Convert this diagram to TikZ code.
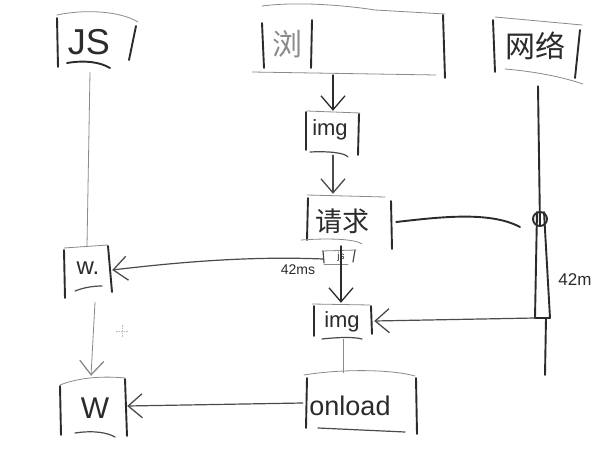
\documentclass[tikz,border=0pt]{standalone}
\usepackage{fontspec}
\setmainfont{Liberation Sans}
\newfontfamily\cjk{Noto Sans CJK SC}
\usetikzlibrary{arrows.meta}
\definecolor{ink}{HTML}{2B2B2B}
\definecolor{pale}{HTML}{8A8A8A}
\tikzset{
  heavy/.style={draw=ink, line width=1.9pt, line cap=round},
  medium/.style={draw=ink!85, line width=1.2pt, line cap=round},
  light/.style={draw=pale, line width=0.8pt, line cap=round},
  lbl/.style={text=ink, inner sep=0pt},
  area/.style={draw=none, inner sep=0pt},
  barb/.style={-{Straight Barb[length=14pt,width=24pt,line width=1.3pt]}},
}
\begin{document}
\begin{tikzpicture}[x=1pt,y=-1pt]
\useasboundingbox (0,0) rectangle (600,455);
\fill[white] (0,0) rectangle (600,455);

% ---- areas (invisible named boxes) ----
\node[area, minimum width=80pt, minimum height=52pt] (jsbox) at (96,41) {};
\node[area, minimum width=190pt, minimum height=70pt] (browbox) at (350,40) {};
\node[area, minimum width=94pt, minimum height=64pt] (netbox) at (537,48) {};
\node[area, minimum width=54pt, minimum height=44pt] (img1) at (333,133) {};
\node[area, minimum width=86pt, minimum height=52pt] (req) at (349,220) {};
\node[area, minimum width=32pt, minimum height=12pt] (jss) at (339,257) {};
\node[area, minimum width=62pt, minimum height=36pt] (img2) at (343,321) {};
\node[area, minimum width=114pt, minimum height=60pt] (onload) at (360,403) {};
\node[area, minimum width=50pt, minimum height=48pt] (wa) at (87,270) {};
\node[area, minimum width=68pt, minimum height=60pt] (wb) at (93,406) {};
\coordinate (knot) at (540,219);
\coordinate (tip) at (543,318);

% ---- texts ----
\node[lbl, font=\fontsize{36}{36}\selectfont] (tjs) at (89,42) {JS};
\node[lbl, font=\cjk\fontsize{30}{30}\selectfont, text=pale] (tbrow) at (287,44) {浏};
\node[lbl, font=\cjk\fontsize{30}{30}\selectfont] (tnet) at (535,46) {网络};
\node[lbl, font=\fontsize{22}{22}\selectfont] (timg1) at (330,130) {img};
\node[lbl, font=\cjk\fontsize{27}{27}\selectfont] (treq) at (342,221) {请求};
\node[lbl, font=\fontsize{10}{10}\selectfont] (tjss) at (341,257) {js};
\node[lbl, font=\fontsize{14}{14}\selectfont] (t42a) at (298,270) {42ms};
\node[lbl, font=\fontsize{17}{17}\selectfont] (t42b) at (575,280) {42m};
\node[lbl, font=\fontsize{22}{22}\selectfont] (timg2) at (342,322) {img};
\node[lbl, font=\fontsize{27}{27}\selectfont] (tonload) at (350,406) {onload};
\node[lbl, font=\fontsize{24}{24}\selectfont] (twa) at (88,268) {w.};
\node[lbl, font=\fontsize{30}{30}\selectfont] (twb) at (95,408) {W};

% ---- box strokes ----
% JS
\draw[light] (57,15) .. controls (85,9) and (120,11) .. (138,22);
\draw[heavy] (57,18) -- (58,67);
\draw[heavy] (136,26) -- (129,60);
\draw[heavy] (67,63) .. controls (85,60) and (100,62) .. (110,68);
% browser
\draw[light] (262,6) .. controls (300,1) and (350,6) .. (375,10) -- (445,14);
\draw[heavy] (262,23) -- (264,68);
\draw[heavy] (312,20) -- (311,68);
\draw[heavy] (443,15) -- (445,78);
\draw[light] (252,72) -- (436,75);
% network
\draw[light] (495,17) -- (582,25);
\draw[heavy] (493,20) -- (495,72);
\draw[heavy] (580,30) -- (575,78);
\draw[light] (505,69) .. controls (540,72) and (565,78) .. (583,84);
% img1
\draw[light] (307,111) -- (360,113);
\draw[heavy] (306,112) -- (306,150);
\draw[heavy] (359,114) -- (358,155);
\draw[medium] (310,152) .. controls (330,151) and (345,153) .. (348,157);
% request
\draw[light] (307,195) -- (385,197);
\draw[heavy] (308,198) -- (307,240);
\draw[heavy] (391,201) -- (392,249);
\draw[light] (301,240) .. controls (330,238) and (355,239) .. (362,244);
% small js box
\draw[light] (322,251) -- (356,250);
\draw[medium] (323,251) -- (324,263);
\draw[medium] (355,250) -- (353,262);
\draw[light] (324,264) -- (348,264);
% img2
\draw[light] (312,304) -- (370,305);
\draw[heavy] (314,306) -- (314,336);
\draw[heavy] (371,306) -- (372,334);
\draw[medium] (322,339) .. controls (340,337) and (355,337) .. (362,339);
% onload
\draw[light] (304,375) .. controls (340,369) and (390,369) .. (415,376);
\draw[heavy] (307,378) -- (306,428);
\draw[heavy] (416,378) -- (417,434);
\draw[medium] (318,428) -- (405,432);
% w.
\draw[light] (64,248) -- (108,245);
\draw[heavy] (64,250) -- (65,298);
\draw[heavy] (108,246) -- (112,292);
\draw[medium] (75,291) .. controls (85,287) and (95,286) .. (102,286);
% W
\draw[light] (60,385) .. controls (80,377) and (105,376) .. (125,378);
\draw[heavy] (60,386) -- (61,435);
\draw[heavy] (125,379) -- (127,436);
\draw[medium] (75,433) .. controls (95,430) and (108,433) .. (115,437);

% ---- network timeline ----
\draw[heavy] (netbox.south -| knot) ++(-2,6) -- ([yshift=-7pt]knot);
\draw[heavy] (knot) circle (7pt);
\draw[heavy] ([xshift=-3pt,yshift=7pt]knot) -- ([xshift=-8pt]tip);
\draw[heavy] ([xshift=4pt,yshift=7pt]knot) -- ([xshift=7pt]tip);
\draw[heavy] ([xshift=-8pt]tip) -- ([xshift=7pt]tip);
\draw[heavy] ([xshift=3pt]tip) -- ++(-1,57);

% ---- connectors ----
\draw[heavy, barb] (browbox.south -| img1) -- (img1.north);
\draw[medium, barb] (img1.south) -- (req.north -| img1);
\draw[heavy, barb] (req.south -| jss) ++(2,0) -- ([xshift=2pt]img2.north -| jss);
\draw[medium, barb] ([yshift=-2pt]jss.west) .. controls (250,256) and (180,262) .. (wa.east);
\draw[heavy] (req.east) ++(4,2) .. controls (440,217) and (490,211) .. ([xshift=-20pt,yshift=-8pt]knot);
\draw[medium, barb] ([xshift=-8pt]tip) -- (img2.east);
\draw[light] (img2.south) -- (onload.north -| img2);
\draw[medium, barb] (onload.west) -- (wb.east);
\draw[light] (jsbox.south) ++(-6,5) -- (wa.north);
\draw[light, barb] (wa.south) ++(8,8) -- ([xshift=-2pt]wb.north);

% cursor mark
\draw[pale!60, line width=0.5pt, dash pattern=on 1.5pt off 1pt] (116,331) -- (128,331) (122,325) -- (122,337);
\end{tikzpicture}
\end{document}
